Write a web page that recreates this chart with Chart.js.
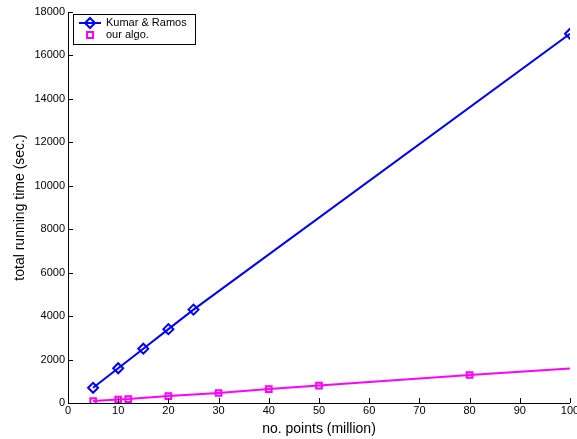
<!DOCTYPE html>
<html><head><meta charset="utf-8">
<script src="https://cdn.jsdelivr.net/npm/chart.js@4/dist/chart.umd.min.js"></script>
<style>html,body{margin:0;padding:0;background:#fff;}#wrap{width:577px;height:439px;position:relative;}</style>
</head><body><div id="wrap"><canvas id="c" width="577" height="439"></canvas></div>
<script>
const seriesNames = ["Kumar & Ramos", "our algo."];
const kumarX = [5, 10, 15, 20, 25, 100];
const kumarY = [700, 1600, 2500, 3400, 4300, 17000];
const oursX = [5, 10, 12, 20, 30, 40, 50, 80, 100];
const oursY = [90, 160, 180, 320, 460, 640, 800, 1290, 1590];
const oursMarker = [true, true, true, true, true, true, true, true, false];
const xTicks = [0,10,20,30,40,50,60,70,80,90,100];
const yTicks = [0,2000,4000,6000,8000,10000,12000,14000,16000,18000];
const xTitle = "no. points (million)";
const yTitle = "total running time (sec.)";

const FONT = "'Liberation Sans', Arial, sans-serif";

const innerTicks = {
  id: 'innerTicks',
  afterDatasetsDraw(chart) {
    const ctx = chart.ctx, a = chart.chartArea;
    const xs = chart.scales.x, ys = chart.scales.y;
    ctx.save();
    ctx.strokeStyle = '#000'; ctx.lineWidth = 1;
    ctx.beginPath();
    ctx.moveTo(a.left + 0.5, a.top); ctx.lineTo(a.left + 0.5, a.bottom + 0.5);
    ctx.lineTo(a.right, a.bottom + 0.5);
    xTicks.forEach(v => { const px = Math.round(xs.getPixelForValue(v)) + 0.5; ctx.moveTo(px, a.bottom); ctx.lineTo(px, a.bottom - 5); });
    yTicks.forEach(v => { const py = Math.round(ys.getPixelForValue(v)) + 0.5; ctx.moveTo(a.left, py); ctx.lineTo(a.left + 5, py); });
    ctx.stroke();
    ctx.restore();
  },
  afterDraw(chart) {
    const ctx = chart.ctx;
    const bx = 73.5, by = 14.5, bw = 122, bh = 30;
    ctx.save();
    ctx.fillStyle = '#fff'; ctx.fillRect(bx, by, bw, bh);
    ctx.strokeStyle = '#000'; ctx.lineWidth = 1; ctx.strokeRect(bx, by, bw, bh);
    const ds = chart.data.datasets;
    ctx.strokeStyle = ds[0].borderColor; ctx.lineWidth = 2;
    ctx.beginPath(); ctx.moveTo(79, 23); ctx.lineTo(101, 23); ctx.stroke();
    ctx.lineWidth = 2;
    ctx.beginPath(); ctx.moveTo(90, 18); ctx.lineTo(95, 23); ctx.lineTo(90, 28); ctx.lineTo(85, 23); ctx.closePath(); ctx.stroke();
    ctx.strokeStyle = ds[1].borderColor; ctx.lineWidth = 2;
    ctx.strokeRect(87, 32, 6, 6);
    ctx.fillStyle = '#000'; ctx.font = '11px ' + FONT; ctx.textBaseline = 'middle'; ctx.textAlign = 'left';
    ctx.fillText(ds[0].label, 106, 23);
    ctx.fillText(ds[1].label, 106, 35);
    ctx.restore();
  }
};

new Chart(document.getElementById('c'), {
  type: 'scatter',
  data: {
    datasets: [
      { label: seriesNames[0], data: kumarX.map((x,i)=>({x, y:kumarY[i]})), showLine: true,
        borderColor: '#0000ff', backgroundColor: 'rgba(0,0,0,0)', borderWidth: 2,
        pointStyle: 'rectRot', pointRadius: 5, pointBorderWidth: 2, pointBorderColor: '#0000ff', pointBackgroundColor: 'rgba(0,0,0,0)' },
      { label: seriesNames[1], data: oursX.map((x,i)=>({x, y:oursY[i]})), showLine: true,
        borderColor: '#ff00ff', backgroundColor: 'rgba(0,0,0,0)', borderWidth: 2,
        pointStyle: 'rect', pointRadius: oursMarker.map(m => m ? 4 : 0), pointBorderWidth: 2, pointBorderColor: '#ff00ff', pointBackgroundColor: 'rgba(0,0,0,0)' }
    ]
  },
  options: {
    responsive: false, animation: false, devicePixelRatio: 1,
    layout: { padding: { top: 12, right: 6, left: 0, bottom: 0 } },
    plugins: { legend: { display: false }, tooltip: { enabled: false } },
    scales: {
      x: { type: 'linear', min: 0, max: 100,
        afterFit(s) { s.height = 36; s.paddingLeft = 0; s.paddingRight = 0; },
        afterBuildTicks(s) { s.ticks = xTicks.map(v => ({ value: v })); },
        grid: { display: true, drawOnChartArea: false, drawTicks: false, color: 'rgba(0,0,0,0)' },
        border: { display: false },
        ticks: { color: '#000', font: { family: FONT, size: 11 }, padding: 1, maxRotation: 0, autoSkip: false, callback: v => String(v) },
        title: { display: true, text: xTitle, color: '#000', font: { family: FONT, size: 14 }, padding: { top: 0, bottom: 1 } } },
      y: { type: 'linear', min: 0, max: 18000,
        afterFit(s) { s.width = 68; s.paddingTop = 0; s.paddingBottom = 0; },
        afterBuildTicks(s) { s.ticks = yTicks.map(v => ({ value: v })); },
        grid: { display: true, drawOnChartArea: false, drawTicks: false, color: 'rgba(0,0,0,0)' },
        border: { display: false },
        ticks: { color: '#000', font: { family: FONT, size: 11 }, padding: 3, autoSkip: false, callback: v => String(v) },
        title: { display: true, text: yTitle, color: '#000', font: { family: FONT, size: 14 }, padding: { top: 12, bottom: 0 } } }
    }
  },
  plugins: [innerTicks]
});
</script></body></html>
